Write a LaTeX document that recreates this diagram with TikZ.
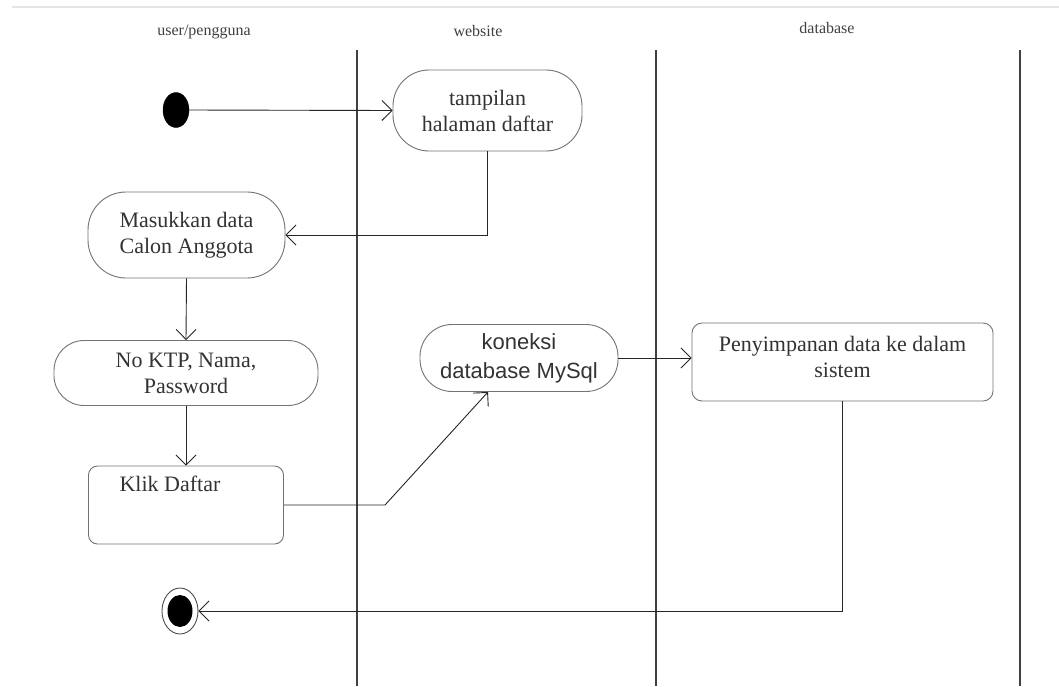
\documentclass[tikz,border=0pt]{standalone}
\usepackage{fontspec}
\setmainfont{Liberation Serif}
\newfontfamily\arialfont{Liberation Sans}
\usetikzlibrary{arrows.meta,shapes.geometric,calc}
\tikzset{
  act/.style={draw=black!55, line width=0.9pt, align=center, inner sep=0pt,
    font=\fontsize{22}{26}\selectfont, text=black!80},
  lane/.style={draw=black!75, line width=1.1pt},
  flow/.style={draw=black!85, line width=0.9pt, -{Straight Barb[length=10pt,width=20pt,line width=0.9pt]}},
  flowplain/.style={draw=black!85, line width=0.9pt},
  hdr/.style={font=\fontsize{16}{18}\selectfont, text=black!75, inner sep=0pt}
}
\begin{document}
\begin{tikzpicture}[x=1pt,y=-1pt]
\useasboundingbox (0,0) rectangle (1059,686);
\fill[white] (0,0) rectangle (1059,686);
% faint top line
\draw[black!10, line width=1.5pt] (12,7) -- (1059,7);
% headers
\node[hdr] (h1) at (204,32) {user/pengguna};
\node[hdr] (h2) at (478,31) {website};
\node[hdr] (h3) at (827,28) {database};
% lanes
\draw[lane] (357,50) -- (357,686);
\draw[lane] (656,50) -- (656,686);
\draw[lane] (1020,50) -- (1020,686);
% nodes
\node[draw, fill=black, ellipse, minimum width=26pt, minimum height=35pt, inner sep=0pt] (start) at (176,110) {};
\node[act, rounded corners=36pt, minimum width=189pt, minimum height=81pt] (tampil) at (487.5,110.5) {tampilan\\halaman daftar};
\node[act, rounded corners=38pt, minimum width=197pt, minimum height=86pt] (masuk) at (186.5,235) {Masukkan data\\Calon Anggota};
\node[act, rounded corners=30pt, minimum width=264pt, minimum height=65pt] (ktp) at (186,373) {No KTP, Nama,\\Password};
\node[act, rounded corners=9pt, minimum width=195pt, minimum height=78pt,
  label={[act, draw=none, xshift=-16pt, yshift=-27pt]north:Klik Daftar}] (klik) at (186,505) {};
\node[act, rounded corners=32pt, minimum width=198pt, minimum height=67pt,
  font=\arialfont\fontsize{22}{29}\selectfont] (kon) at (519,358) {koneksi\\database MySql};
\node[act, rounded corners=10pt, minimum width=301pt, minimum height=78pt, text depth=10pt] (simpan) at (842.5,362) {Penyimpanan data ke dalam\\sistem};
\node[draw=black!70, line width=0.9pt, ellipse, minimum width=36pt, minimum height=46pt, inner sep=0pt] (final) at (180,611) {};
\node[fill=black, ellipse, minimum width=25pt, minimum height=32pt, inner sep=0pt] (finalin) at (final.center) {};
% connectors
\coordinate (bend) at (385,505);
\draw[flow] (start.east) -- (tampil.west);
\draw[flow] (tampil.south) |- (masuk.east);
\draw[flow] (masuk.south) -- (ktp.north);
\draw[flow] (ktp.south) -- (klik.north);
\draw[flow] (klik.east) -- (bend) -- ([xshift=-31pt]kon.south);
\draw[flow] (kon.east) -- (kon.east -| simpan.west);
\draw[flow] (simpan.south) |- (final.east);
\end{tikzpicture}
\end{document}
